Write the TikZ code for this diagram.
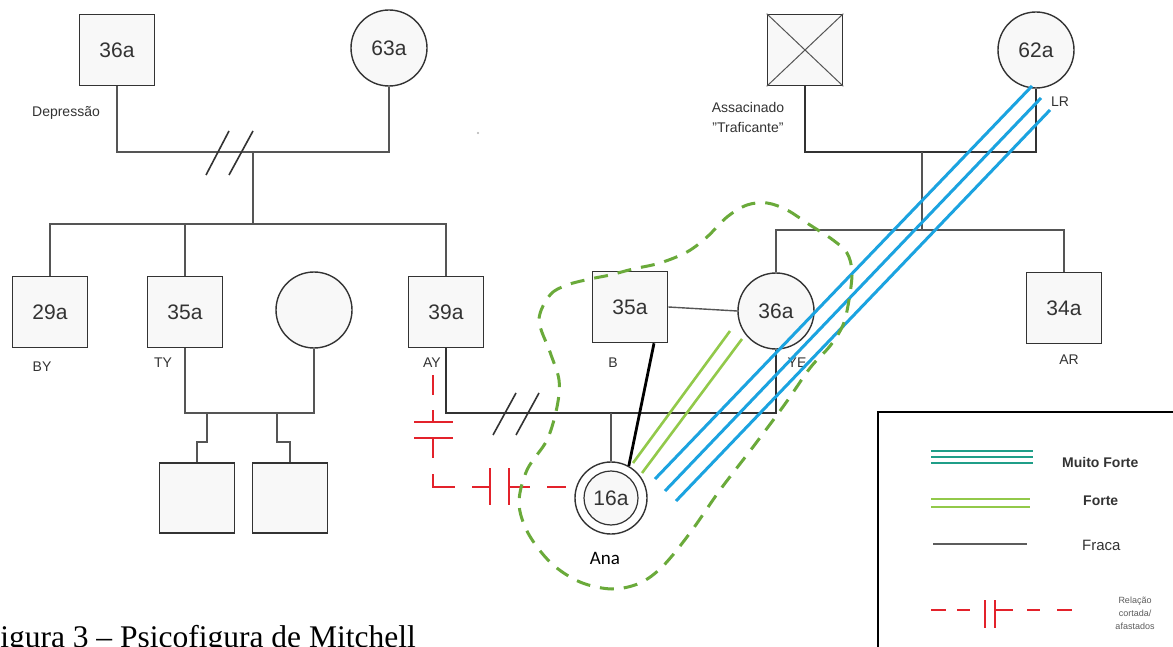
\documentclass[tikz,border=0pt]{standalone}
\usepackage{fontspec}
\setmainfont{Liberation Sans}
\newfontfamily\capfont{Liberation Serif}
\newfontfamily\anafont{Carlito}
\usetikzlibrary{calc}
\definecolor{linec}{HTML}{555555}
\definecolor{boxc}{HTML}{333333}
\definecolor{boxfill}{HTML}{F8F8F8}
\definecolor{mfblue}{HTML}{1BA3E0}
\definecolor{fgreen}{HTML}{92C94A}
\definecolor{dgreen}{HTML}{6AAA3A}
\definecolor{cutred}{HTML}{E3222B}
\definecolor{tealc}{HTML}{1F9E88}
\begin{document}
\begin{tikzpicture}[x=1pt,y=-1pt,
  male/.style={draw=boxc, line width=1.6pt, fill=boxfill, rectangle, minimum width=75pt, minimum height=71pt, inner sep=0pt, text=boxc, font=\fontsize{21}{24}\selectfont},
  female/.style={draw=boxc, line width=1.4pt, fill=boxfill, circle, minimum size=76pt, inner sep=0pt, text=boxc, font=\fontsize{21}{24}\selectfont},
  lbl/.style={text=boxc, inner sep=0pt, font=\fontsize{14}{20}\selectfont},
  fam/.style={draw=linec, line width=1.4pt},
  div/.style={draw=boxc, line width=1.6pt},
  fraca/.style={draw=black, line width=2.8pt},
  forte/.style={draw=fgreen, line width=2.6pt},
  muito/.style={draw=mfblue, line width=3pt},
  cut/.style={draw=cutred, line width=2.6pt},
  hull/.style={draw=dgreen, line width=3pt, dash pattern=on 14pt off 10pt},
  leglbl/.style={text=boxc, inner sep=0pt, anchor=west, font=\fontsize{15}{18}\selectfont}
]
\useasboundingbox (0,0) rectangle (1173,647);
\fill[white] (0,0) rectangle (1173,647);

% ---------- top generation ----------
\node[male] (g36) at (117,50) {36a};
\node[female] (g63) at (389,48) {63a};
\node[lbl] (dep) at (66,113) {Depressão};
\node[male] (xm) at (805,50) {};
\draw[draw=linec, line width=1pt] (xm.north west) -- (xm.south east) (xm.north east) -- (xm.south west);
\node[female] (g62) at (1036,50) {62a};
\node[lbl, align=center] (ass) at (748,117) {Assacinado\\"Traficante"};
\node[lbl] (lr) at (1060,102) {LR};
\fill[gray!60] (478,133) circle (1.2pt);

% ---------- second generation ----------
\node[male] (by) at (50,312) {29a};
\node[lbl] (byl) at (42,367) {BY};
\node[male] (ty) at (185,312) {35a};
\node[lbl] (tyl) at (163,363) {TY};
\node[female] (tyw) at (314,310) {};
\node[male] (ay) at (446,312) {39a};
\node[lbl] (ayl) at (432,363) {AY};
\node[male] (b) at (630,307) {35a};
\node[lbl] (bl) at (613,363) {B};
\node[female] (ye) at (776,311) {36a};
\node[lbl] (yel) at (797,363) {YE};
\node[male] (ar) at (1064,308) {34a};
\node[lbl] (arl) at (1069,360) {AR};

% ---------- third generation ----------
\node[male, minimum height=70pt] (c1) at (197,498) {};
\node[male, minimum height=70pt] (c2) at (290,498) {};
\node[female, minimum size=72pt, fill=white] (ana) at (611,498) {};
\node[female, minimum size=54pt, line width=1.2pt] (anain) at (611,498) {16a};
\node[inner sep=0pt, font=\anafont\fontsize{19}{22}\selectfont] (anal) at (605,558) {Ana};

% ---------- family lines ----------
\coordinate (m1) at (253,152);
\coordinate (s1) at (253,224);
\draw[fam] (g36.south) |- (g63.south |- m1) -- (g63.south);
\draw[fam] (m1) -- (s1);
\draw[fam] (by.north) |- (ay.north |- s1) -- (ay.north);
\draw[fam] (ty.north) -- (ty.north |- s1);

\coordinate (m2) at (250,413);
\draw[fam] (ty.south) |- (tyw.south |- m2) -- (tyw.south);
\coordinate (k1) at (207,413);
\coordinate (k2) at (277,413);
\draw[fam] (k1) -- ++(0,29) -| (c1.north);
\draw[fam] (k2) -- ++(0,29) -| (c2.north);

\coordinate (m3) at (611,413);
\draw[fam, draw=boxc] (ay.south) |- (ye.south |- m3) -- (ye.south);
\draw[fam] (m3) -- (ana.north);
\draw[fam] (b.east) -- (ye.west);

\coordinate (m4) at (922,152);
\coordinate (s2) at (922,230);
\draw[fam, draw=boxc] (xm.south) |- (g62.south |- m4) -- (g62.south);
\draw[fam] (m4) -- (s2);
\draw[fam] (ye.north) |- (ar.north |- s2) -- (ar.north);

% divorce marks
\draw[div] (206,175) -- (229,131) (229,175) -- (253,131);
\draw[div] (493,435) -- (516,393) (516,435) -- (539,393);

% ---------- relationships ----------
\draw[fraca] ($(b.south)+(24,0)$) -- (ana.61);
\coordinate (f1a) at (730,331); \coordinate (f1b) at (633,463);
\coordinate (f2a) at (742,339); \coordinate (f2b) at (642,473);
\draw[forte] (f1a) -- (f1b) (f2a) -- (f2b);
\coordinate (b1a) at (1032,86);  \coordinate (b1b) at (655,479);
\coordinate (b2a) at (1041,98);  \coordinate (b2b) at (665,491);
\coordinate (b3a) at (1050,110); \coordinate (b3b) at (676,501);
\draw[muito] (b1a) -- (b1b) (b2a) -- (b2b) (b3a) -- (b3b);

% cut relation AY - Ana
\draw[cut] (433,375) -- (433,395);
\draw[cut] (433,410) -- (433,422) (414,422) -- (453,422);
\draw[cut] (414,438) -- (453,438) (433,438) -- (433,458);
\draw[cut] (433,474) -- (433,487) -- (455,487);
\draw[cut] (472,487) -- (490,487) (490,468) -- (490,505);
\draw[cut] (509,468) -- (509,505) (509,487) -- (530,487);
\draw[cut] (547,487) -- (566,487);

% green dashed hull
\draw[hull] plot[smooth cycle, tension=0.55] coordinates {
 (539,320) (550,295) (567,285) (590,279) (610,275) (633,269) (660,263) (687,252)
 (707,237) (727,217) (747,205) (767,203) (787,210) (810,225) (833,240) (847,253)
 (852,272) (849,300) (843,325) (830,346) (810,368) (785,404) (753,447) (720,490)
 (690,533) (663,566) (640,583) (612,589) (580,582) (551,563) (528,533) (519,503)
 (527,470) (547,440) (557,407) (559,380) (550,352)};

% ---------- legend ----------
\draw[draw=black, line width=1.6pt] (878,412) rectangle (1185,660);
\draw[draw=tealc, line width=2.6pt] (931,451) -- (1033,451) (931,457) -- (1033,457) (931,463) -- (1033,463);
\node[leglbl, font=\bfseries\fontsize{14}{18}\selectfont] (lmf) at (1062,462) {Muito Forte};
\draw[draw=fgreen, line width=2.6pt] (931,499) -- (1030,499) (931,507) -- (1030,507);
\node[leglbl, font=\bfseries\fontsize{14}{18}\selectfont] (lf) at (1083,501) {Forte};
\draw[draw=boxc!80, line width=2.4pt] (933,544) -- (1027,544);
\node[leglbl] (lfr) at (1082,545) {Fraca};
\draw[cut, line width=2.2pt] (931,610) -- (946,610) (957,610) -- (970,610) (985,600) -- (985,628)
  (995,600) -- (995,628) (995,610) -- (1013,610) (1027,610) -- (1040,610) (1057,610) -- (1072,610);
\node[inner sep=0pt, align=center, text=boxc!80, font=\fontsize{9}{13}\selectfont] (lcut) at (1135,613) {Relação\\cortada/\\afastados};

% caption
\node[anchor=base east, inner sep=0pt, font=\capfont\fontsize{31.5}{36}\selectfont] (cap) at (416,647) {Figura 3 – Psicofigura de Mitchell};
\end{tikzpicture}
\end{document}
